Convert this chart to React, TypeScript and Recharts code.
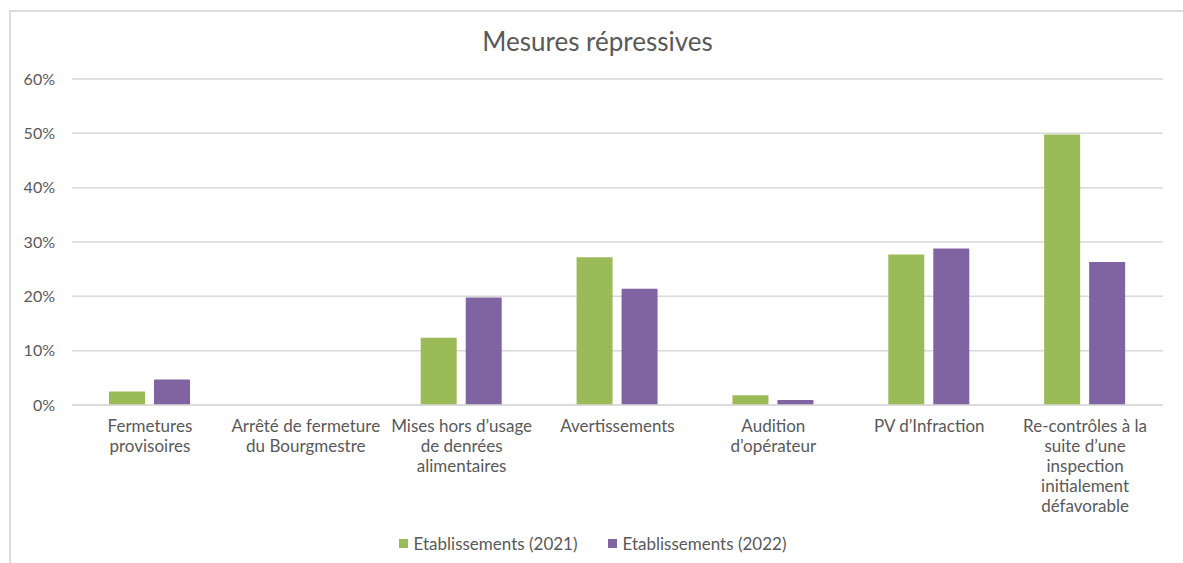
import { BarChart, Bar, XAxis, YAxis, CartesianGrid, Legend } from 'recharts';

const categories = [
  ['Fermetures', 'provisoires'],
  ['Arrêté de fermeture', 'du Bourgmestre'],
  ['Mises hors d’usage', 'de denrées', 'alimentaires'],
  ['Avertissements'],
  ['Audition', 'd’opérateur'],
  ['PV d’Infraction'],
  ['Re-contrôles à la', 'suite d’une', 'inspection', 'initialement', 'défavorable'],
];
const etab2021 = [2.5, 0, 12.4, 27.2, 1.8, 27.7, 49.8];
const etab2022 = [4.7, 0, 19.8, 21.4, 0.9, 28.8, 26.3];
const yTicks = [0, 10, 20, 30, 40, 50, 60];

const series = [
  { key: 'e2021', name: 'Etablissements (2021)', color: '#9BBB59' },
  { key: 'e2022', name: 'Etablissements (2022)', color: '#8064A2' },
];

const data = categories.map((lines, i) => ({
  name: lines.join(' '),
  e2021: etab2021[i],
  e2022: etab2022[i],
}));

const FONT = 'Lato, "Open Sans", sans-serif';
const TEXT = '#595959';

function CategoryTick(props: any) {
  const { x, y, payload } = props;
  const lines = categories[payload.index] || [payload.value];
  return (
    <text x={x} y={y} textAnchor="middle" fill={TEXT} fontSize={17} fontFamily={FONT}>
      {lines.map((l, i) => (
        <tspan key={i} x={x} dy={i === 0 ? '0.71em' : 20}>
          {l}
        </tspan>
      ))}
    </text>
  );
}

function LegendContent() {
  return (
    <div style={{ display: 'flex', justifyContent: 'center', gap: 30, fontFamily: FONT, fontSize: 17, color: TEXT }}>
      {series.map((s) => (
        <div key={s.key} style={{ display: 'flex', alignItems: 'center' }}>
          <span style={{ width: 9, height: 9, background: s.color, display: 'inline-block', marginRight: 6 }} />
          <span>{s.name}</span>
        </div>
      ))}
    </div>
  );
}

export default function App() {
  return (
    <div style={{ position: 'absolute', left: 0, top: 0, width: 1183, height: 563, background: '#fff', overflow: 'hidden' }}>
      <div
        style={{
          position: 'absolute',
          left: 9,
          top: 10,
          width: 1200,
          height: 600,
          borderLeft: '2px solid #DCDCDC',
          borderTop: '2px solid #DCDCDC',
        }}
      />
      <div
        style={{
          position: 'absolute',
          top: 25,
          left: 0,
          width: 1195,
          textAlign: 'center',
          fontFamily: FONT,
          fontSize: 26,
          color: TEXT,
        }}
      >
        Mesures répressives
      </div>
      <BarChart
        width={1183}
        height={563}
        data={data}
        margin={{ top: 79, right: 20, left: 22, bottom: 10 }}
        barGap={9}
        style={{ position: 'absolute', left: 0, top: 0 }}
      >
        <CartesianGrid vertical={false} stroke="#D9D9D9" strokeWidth={1.5} />
        <XAxis
          dataKey="name"
          interval={0}
          height={128}
          tickSize={0}
          tickMargin={15}
          axisLine={{ stroke: '#D9D9D9', strokeWidth: 1.5 }}
          tick={<CategoryTick />}
        />
        <YAxis
          width={50}
          domain={[0, 60]}
          ticks={yTicks}
          tickFormatter={(v) => `${v}%`}
          axisLine={false}
          tickLine={false}
          tickSize={0}
          tickMargin={17}
          tick={{ fill: TEXT, fontSize: 16, fontFamily: FONT }}
        />
        <Legend verticalAlign="bottom" height={20} content={<LegendContent />} />
        {series.map((s) => (
          <Bar key={s.key} dataKey={s.key} name={s.name} fill={s.color} barSize={36} isAnimationActive={false} />
        ))}
      </BarChart>
    </div>
  );
}
